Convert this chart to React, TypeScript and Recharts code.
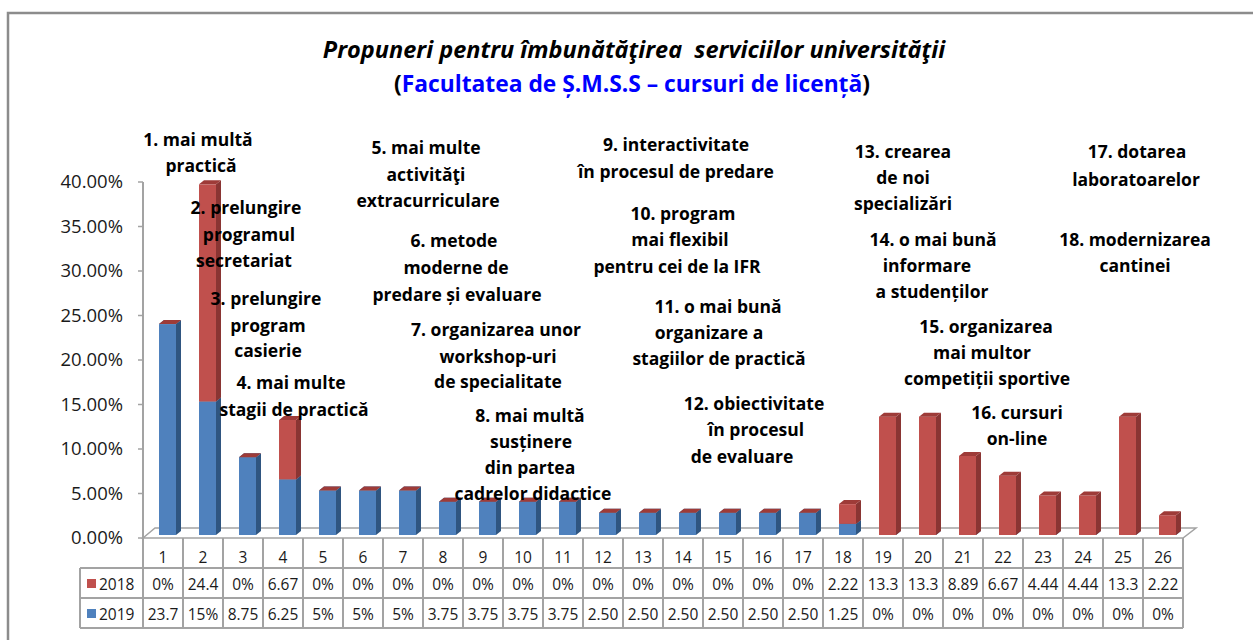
import React from 'react'
import { BarChart, Bar, XAxis, YAxis } from 'recharts'

const categories = ['1', '2', '3', '4', '5', '6', '7', '8', '9', '10', '11', '12', '13', '14', '15', '16', '17', '18', '19', '20', '21', '22', '23', '24', '25', '26']

const values2018 = [0, 24.4, 0, 6.67, 0, 0, 0, 0, 0, 0, 0, 0, 0, 0, 0, 0, 0, 2.22, 13.3, 13.3, 8.89, 6.67, 4.44, 4.44, 13.3, 2.22]
const values2019 = [23.7, 15, 8.75, 6.25, 5, 5, 5, 3.75, 3.75, 3.75, 3.75, 2.5, 2.5, 2.5, 2.5, 2.5, 2.5, 1.25, 0, 0, 0, 0, 0, 0, 0, 0]

const labels2018 = ['0%', '24.4', '0%', '6.67', '0%', '0%', '0%', '0%', '0%', '0%', '0%', '0%', '0%', '0%', '0%', '0%', '0%', '2.22', '13.3', '13.3', '8.89', '6.67', '4.44', '4.44', '13.3', '2.22']
const labels2019 = ['23.7', '15%', '8.75', '6.25', '5%', '5%', '5%', '3.75', '3.75', '3.75', '3.75', '2.50', '2.50', '2.50', '2.50', '2.50', '2.50', '1.25', '0%', '0%', '0%', '0%', '0%', '0%', '0%', '0%']

const yTicks = [0, 5, 10, 15, 20, 25, 30, 35, 40]

// text boxes over the plot: [text, centre x, centre y]
const notes: [string, number, number][] = [
  ['1. mai multă', 198, 140], ['practică', 201, 166],
  ['2. prelungire', 246, 208], ['programul', 249, 235], ['secretariat', 244, 261],
  ['3. prelungire', 266, 299], ['program', 268, 326], ['casierie', 268, 351],
  ['4. mai multe', 291, 383], ['stagii de practică', 294, 410],
  ['5. mai multe', 426, 148], ['activităţi', 426, 175], ['extracurriculare', 428, 201],
  ['6. metode', 454, 241], ['moderne de', 456, 268], ['predare și evaluare', 457, 295],
  ['7. organizarea unor', 496, 330], ['workshop-uri', 498, 357], ['de specialitate', 498, 382],
  ['8. mai multă', 530, 416], ['susținere', 531, 442], ['din partea', 530, 468], ['cadrelor didactice', 533, 494],
  ['9. interactivitate', 676, 145], ['în procesul de predare', 676, 172],
  ['10. program', 683, 214], ['mai flexibil', 680, 240], ['pentru cei de la IFR', 677, 267],
  ['11. o mai bună', 718, 307], ['organizare a', 709, 333], ['stagiilor de practică', 719, 359],
  ['12. obiectivitate', 754, 404], ['în procesul', 756, 430], ['de evaluare', 742, 457],
  ['13. crearea', 903, 152], ['de noi', 903, 178], ['specializări', 903, 204],
  ['14. o mai bună', 933, 240], ['informare', 927, 266], ['a studenților', 932, 292],
  ['15. organizarea', 986, 327], ['mai multor', 982, 353], ['competiții sportive', 987, 379],
  ['16. cursuri', 1017, 413], ['on-line', 1017, 439],
  ['17. dotarea', 1137, 152], ['laboratoarelor', 1136, 180],
  ['18. modernizarea', 1135, 240], ['cantinei', 1135, 266],
]

const data = categories.map((c, i) => ({ cat: c, y2019: values2019[i], y2018: values2018[i] }))

const FONT = "'Open Sans', 'Liberation Sans', sans-serif"
const COL_W = 40
const GRID = '#a3a3a3'

const bar3d = (front: string, side: string, top: string) => (props: any) => {
  const { x, y, width, height } = props
  if (x == null || y == null) return <g />
  const h = Math.max(0, height || 0)
  const fx = x + 4
  const fy = y - 3
  const d = 5
  const up = 4
  return (
    <g>
      <rect x={fx} y={fy} width={width} height={h} fill={front} />
      <polygon points={`${fx + width},${fy} ${fx + width + d},${fy - up} ${fx + width + d},${fy + h - up} ${fx + width},${fy + h}`} fill={side} />
      <polygon points={`${fx},${fy} ${fx + d},${fy - up} ${fx + width + d},${fy - up} ${fx + width},${fy}`} fill={top} />
    </g>
  )
}

const YTick = (props: any) => {
  const { x, y, payload } = props
  return (
    <text x={x} y={y} dy={6} textAnchor="end" fontSize={18.5} fontFamily={FONT} fill="#1a1a1a">
      {payload.value.toFixed(2)}%
    </text>
  )
}

const TableTick = (props: any) => {
  const { x, payload } = props
  const i = categories.indexOf(String(payload.value))
  const left = x - COL_W / 2
  const r0 = 538
  const r1 = 568
  const r2 = 598
  const r3 = 628
  const txt = { fontSize: 15.5, fontFamily: FONT, fill: '#1a1a1a', textAnchor: 'middle' as const }
  return (
    <g>
      <line x1={left} y1={r0} x2={left} y2={r3} stroke={GRID} strokeWidth={2} />
      <line x1={left + COL_W} y1={r0} x2={left + COL_W} y2={r3} stroke={GRID} strokeWidth={2} />
      <line x1={left} y1={r1} x2={left + COL_W} y2={r1} stroke={GRID} strokeWidth={2} />
      <line x1={left} y1={r2} x2={left + COL_W} y2={r2} stroke={GRID} strokeWidth={2} />
      <line x1={left} y1={r3} x2={left + COL_W} y2={r3} stroke={GRID} strokeWidth={2} />
      <text x={x} y={557} dy={5.5} {...txt}>{categories[i]}</text>
      <text x={x} y={584} dy={5.5} {...txt}>{labels2018[i]}</text>
      <text x={x} y={614} dy={5.5} {...txt}>{labels2019[i]}</text>
      {i === 0 && (
        <g>
          <line x1={80} y1={r1} x2={left} y2={r1} stroke={GRID} strokeWidth={2} />
          <line x1={80} y1={r2} x2={left} y2={r2} stroke={GRID} strokeWidth={2} />
          <line x1={80} y1={r3} x2={left} y2={r3} stroke={GRID} strokeWidth={2} />
          <line x1={80} y1={r1} x2={80} y2={r3} stroke={GRID} strokeWidth={2} />
          <rect x={87} y={579} width={9} height={9} fill="#C0504D" />
          <rect x={87} y={609} width={9} height={9} fill="#4F81BD" />
          <text x={99} y={584} dy={5.5} fontSize={15.5} fontFamily={FONT} fill="#1a1a1a">2018</text>
          <text x={99} y={614} dy={5.5} fontSize={15.5} fontFamily={FONT} fill="#1a1a1a">2019</text>
        </g>
      )}
    </g>
  )
}

export default function App() {
  return (
    <div style={{ position: 'absolute', left: 0, top: 0, width: 1253, height: 640, background: '#fff', overflow: 'hidden' }}>
      <svg width={1253} height={640} style={{ position: 'absolute', left: 0, top: 0 }}>
        <rect x={8} y={13} width={1300} height={700} fill="#fff" stroke="#8c8c8c" strokeWidth={2.5} />
        <polygon points="143,538 155,528 1196,528 1183,538" fill="#fff" stroke={GRID} strokeWidth={1.5} />
      </svg>
      <div style={{ position: 'absolute', left: 0, top: 0 }}>
        <BarChart width={1253} height={640} data={data} margin={{ top: 182, right: 70, bottom: 12, left: 63 }} barSize={17}>
          <YAxis
            width={80}
            domain={[0, 40]}
            ticks={yTicks}
            tick={<YTick />}
            tickSize={5}
            tickMargin={15}
            axisLine={{ stroke: GRID, strokeWidth: 2 }}
            tickLine={{ stroke: GRID, strokeWidth: 1.5 }}
          />
          <XAxis dataKey="cat" height={90} interval={0} tick={<TableTick />} axisLine={false} tickLine={false} />
          <Bar dataKey="y2019" stackId="s" isAnimationActive={false} shape={bar3d('#4F81BD', '#2F5580', '#3A6595')} />
          <Bar dataKey="y2018" stackId="s" isAnimationActive={false} shape={bar3d('#C0504D', '#8A3533', '#9E3B38')} />
        </BarChart>
      </div>
      <svg width={1253} height={640} style={{ position: 'absolute', left: 0, top: 0, pointerEvents: 'none' }}>
        <text x={634} y={58} textAnchor="middle" fontSize={23.5} fontWeight="bold" fontStyle="italic" fontFamily={FONT} fill="#000" style={{ whiteSpace: 'pre' }}>
          {'Propuneri pentru îmbunătăţirea  serviciilor universităţii'}
        </text>
        <text x={632} y={92} textAnchor="middle" fontSize={22.8} fontWeight="bold" fontFamily={FONT} fill="#000">
          (<tspan fill="#0000FF">Facultatea de Ș.M.S.S – cursuri de licență</tspan>)
        </text>
        {notes.map(([t, x, y], k) => (
          <text key={k} x={x} y={y} dy={6} textAnchor="middle" fontSize={17.5} fontWeight="bold" fontFamily={FONT} fill="#000">
            {t}
          </text>
        ))}
      </svg>
    </div>
  )
}
